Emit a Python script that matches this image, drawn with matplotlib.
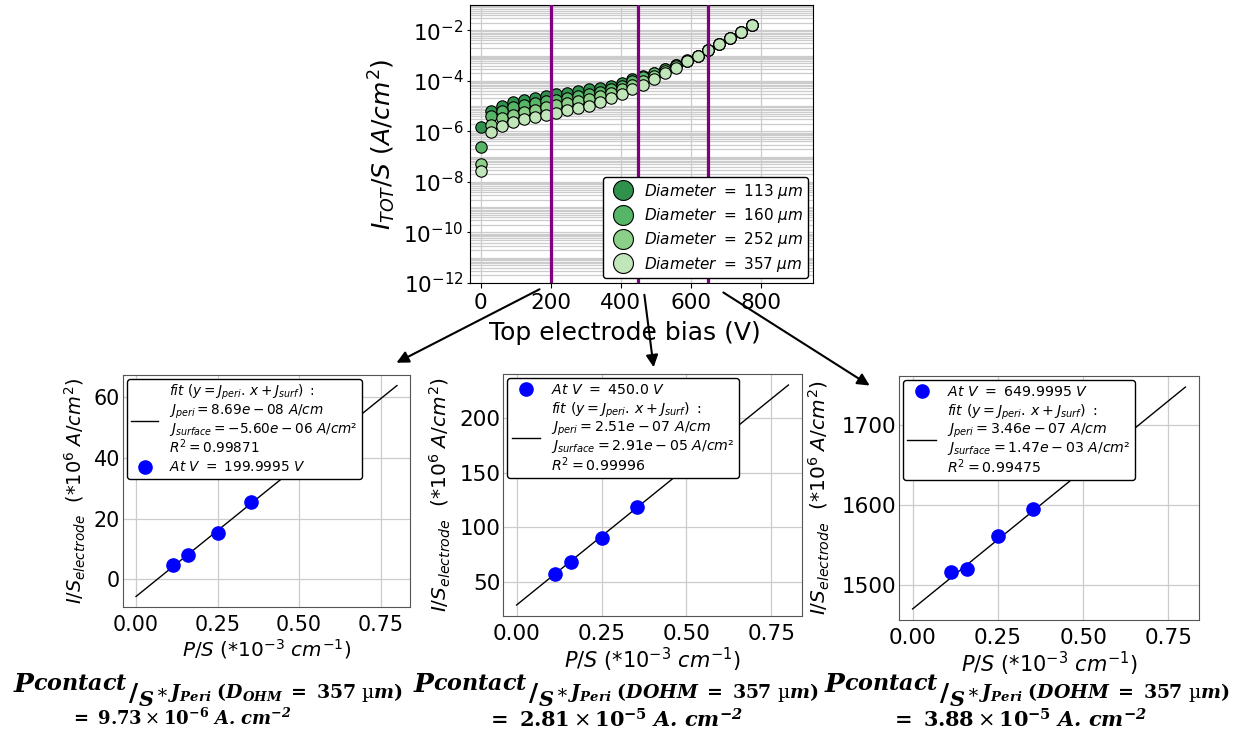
import numpy as np
import matplotlib
matplotlib.use("Agg")
import matplotlib.pyplot as plt
from matplotlib.patches import FancyArrowPatch
from matplotlib.ticker import LogLocator, NullFormatter

# ---------------- data ----------------
bias = [0, 31, 62, 93, 124, 155, 186, 217, 248, 279, 310, 341, 372, 403,
        434, 465, 496, 527, 558, 589, 620, 651, 682, 713, 744, 775]

diameters = ["113", "160", "252", "357"]

j_113 = [1.45e-6, 6.6e-6, 1.05e-5, 1.41e-5, 1.70e-5, 2.04e-5, 2.45e-5, 2.95e-5,
         3.31e-5, 3.89e-5, 4.57e-5, 5.25e-5, 6.46e-5, 8.3e-5, 1.20e-4, 1.55e-4,
         2.09e-4, 3.02e-4, 4.37e-4, 6.46e-4, 9.8e-4, 1.68e-3, 2.95e-3, 5.1e-3,
         8.9e-3, 1.62e-2]
j_160 = [2.45e-7, 3.98e-6, 6.6e-6, 9.3e-6, 1.12e-5, 1.35e-5, 1.62e-5, 1.82e-5,
         2.09e-5, 2.45e-5, 2.88e-5, 3.55e-5, 4.57e-5, 6.2e-5, 9.8e-5, 1.41e-4,
         1.95e-4, 2.82e-4, 4.07e-4, 6.0e-4, 9.6e-4, 1.66e-3, 2.95e-3, 5.1e-3,
         8.9e-3, 1.62e-2]
j_252 = [5.2e-8, 1.86e-6, 3.39e-6, 4.57e-6, 6.0e-6, 7.2e-6, 9.3e-6, 1.12e-5,
         1.35e-5, 1.55e-5, 1.91e-5, 2.45e-5, 3.16e-5, 4.57e-5, 6.8e-5, 1.0e-4,
         1.62e-4, 2.4e-4, 3.8e-4, 5.9e-4, 9.5e-4, 1.65e-3, 2.95e-3, 5.1e-3,
         8.9e-3, 1.62e-2]
j_357 = [2.6e-8, 9.3e-7, 1.70e-6, 2.4e-6, 3.16e-6, 3.7e-6, 4.57e-6, 5.4e-6,
         6.8e-6, 8.1e-6, 1.05e-5, 1.51e-5, 2.04e-5, 3.0e-5, 4.8e-5, 7.1e-5,
         1.20e-4, 1.95e-4, 3.3e-4, 5.9e-4, 9.5e-4, 1.66e-3, 2.95e-3, 5.1e-3,
         8.9e-3, 1.62e-2]
series = [j_113, j_160, j_252, j_357]
green_colors = ["#2f914b", "#56b567", "#8ccf88", "#c1e6ba"]

vline_bias = [200, 450, 650]

# lower panels: perimeter / surface (x) and current density (*1e-6 A/cm2)
p_over_s = [0.112, 0.1587, 0.25, 0.354]
j_at_200 = [4.7, 7.9, 15.2, 25.5]
j_at_450 = [57.3, 68.6, 90.2, 118.5]
j_at_650 = [1516.2, 1520.4, 1560.7, 1594.8]
panel_volts = ["199.9995", "450.0", "649.9995"]
fit_jperi = [86.9, 251.0, 346.0]       # slope in plot units
fit_jsurf = [-5.6, 29.1, 1470.0]       # intercept in plot units
fit_jperi_txt = ["8.69e-08", "2.51e-07", "3.46e-07"]
fit_jsurf_txt = ["-5.60e-06", "2.91e-05", "1.47e-03"]
fit_r2_txt = ["0.99871", "0.99996", "0.99475"]
fit_x = [0.0, 0.8]
panel_yticks = [[0, 20, 40, 60], [50, 100, 150, 200], [1500, 1600, 1700]]
result_vals = ["9.73", "2.81", "3.88"]
result_exps = ["-6", "-5", "-5"]
dohm_txt = [r"\mathbfit{D_{OHM}}", r"\mathbfit{DOHM}", r"\mathbfit{DOHM}"]

# ---------------- figure ----------------
W, H = 1250, 744
fig = plt.figure(figsize=(W / 100, H / 100), dpi=100)


def rect(l, t, r, b):
    return [l / W, 1 - b / H, (r - l) / W, (b - t) / H]


# top plot
ax = fig.add_axes(rect(470, 5, 813, 283))
for j, d, c in zip(series, diameters, green_colors):
    ax.plot(bias, j, "o", ls="none", ms=8.2, mfc=c, mec="black", mew=0.8,
            label=r"$Diameter\ =\ %s\ \mu m$" % d, zorder=3)
for v in vline_bias:
    ax.axvline(v, color="#800080", lw=2.3, zorder=4)
ax.set_yscale("log")
ax.set_ylim(1e-12, 1e-1)
ax.set_xlim(-30, 950)
ax.set_xticks([0, 200, 400, 600, 800])
ax.set_yticks([1e-12, 1e-10, 1e-8, 1e-6, 1e-4, 1e-2])
ax.yaxis.set_minor_locator(LogLocator(base=10, subs=np.arange(1, 10), numticks=200))
ax.yaxis.set_minor_formatter(NullFormatter())
ax.tick_params(axis="y", which="minor", length=0)
ax.tick_params(axis="y", which="major", length=2.5, pad=2)
ax.grid(True, which="major", color="#cccccc", lw=0.9, zorder=0)
ax.grid(True, which="minor", axis="y", color="#cccccc", lw=0.9, zorder=0)
ax.set_axisbelow(True)
ax.tick_params(labelsize=15.5)
ax.set_xlabel("Top electrode bias (V)", fontsize=18, labelpad=0)
ax.xaxis.set_label_coords(0.452, -0.135)
ax.set_ylabel(r"$I_{TOT}/S\ (A/cm^2)$", fontsize=18, labelpad=4)
leg = ax.legend(loc="lower right", fontsize=11, markerscale=1.75,
                handletextpad=0.4, borderpad=0.3, labelspacing=0.35,
                framealpha=1, edgecolor="black", borderaxespad=0.3)
leg.set_zorder(10)

# lower panels
panel_rects = [rect(123, 375, 410, 607), rect(503, 374, 802, 616),
               rect(899, 376, 1199, 620)]
panel_data = [j_at_200, j_at_450, j_at_650]
panel_font = [0.96, 1.0, 1.0]
ylabel_x = [-0.122, -0.167, -0.222]
for i in range(3):
    s = panel_font[i]
    a = fig.add_axes(panel_rects[i])
    fy = [fit_jperi[i] * x + fit_jsurf[i] for x in fit_x]
    fit_lab = (r"$fit\ (y = J_{peri}.\,x + J_{surf})\ :$" + "\n"
               + r"$J_{peri} = %s\ A/cm$" % fit_jperi_txt[i] + "\n"
               + r"$J_{surface} = %s\ A/cm²$" % fit_jsurf_txt[i] + "\n"
               + r"$R^2 = %s$" % fit_r2_txt[i])
    pt_lab = r"$At\ V\ =\ %s\ V$" % panel_volts[i]
    h_fit, = a.plot(fit_x, fy, color="black", lw=1.0, label=fit_lab, zorder=3)
    h_pt, = a.plot(p_over_s, panel_data[i], "o", ls="none", ms=9.5,
                   color="blue", label=pt_lab, zorder=4)
    handles = [h_fit, h_pt] if i == 0 else [h_pt, h_fit]
    lg = a.legend(handles=handles, loc="upper left", fontsize=10.2 * s,
                  framealpha=1, edgecolor="black", borderpad=0.3,
                  labelspacing=0.3, handletextpad=0.8, borderaxespad=0.3)
    for t in lg.get_texts():
        t.set_linespacing(1.0)
    a.set_xticks([0, 0.25, 0.5, 0.75])
    a.set_yticks(panel_yticks[i])
    a.grid(True, color="#cccccc", lw=0.9)
    a.set_axisbelow(True)
    a.tick_params(labelsize=15.5 * s)
    a.tick_params(axis="y", length=0, pad=2)
    a.tick_params(axis="x", length=0, pad=6)
    for sp in a.spines.values():
        sp.set_color("#555555")
    a.set_xlabel(r"$P/S$ (*10$^{-3}$ $cm^{-1}$)", fontsize=15 * s, labelpad=1)
    a.set_ylabel(r"$I/S_{electrode}$  (*10$^6$ $A/cm^2$)", fontsize=14.5 * s)
    a.yaxis.set_label_coords(ylabel_x[i], 0.5)

# arrows
arrows = [((542, 288), (394, 364)), ((644, 292), (654, 370)),
          ((721, 291), (872, 387))]
for (x0, y0), (x1, y1) in arrows:
    fig.add_artist(FancyArrowPatch((x0 / W, 1 - y0 / H), (x1 / W, 1 - y1 / H),
                                   transform=fig.transFigure,
                                   arrowstyle="-|>", mutation_scale=18,
                                   lw=1.5, color="black"))

# bottom formulas
R = fig.canvas.get_renderer()


def put(txt, x, yb, size, ha="left"):
    t = fig.text(x / W, 1 - yb / H, txt, fontsize=size, ha=ha, va="baseline",
                 math_fontfamily="dejavuserif")
    return t.get_window_extent(renderer=R).x1


line1_x = [13, 413, 824]
line2_cx = [181, 615, 1019]
line2_size = [13.0, 15.0, 15.0]
line2_base = [725, 728, 728]
for i in range(3):
    x = put(r"$\mathbfit{P}$", line1_x[i], 692, 19)
    x = put(r"$\mathbfit{contact}$", x - 3, 690, 16)
    x = put(r"$\mathbf{/}$", x, 701, 18)
    x = put(r"$\mathbfit{S}$", x - 1, 706, 15)
    rest = (r"$\ast\,\mathbfit{J_{Peri}}\ \mathbf{(}" + dohm_txt[i]
            + r"\ \mathbf{=}\ \mathbf{357}\ \mathrm{µ}\mathbfit{m}\mathbf{)}$")
    put(rest, x + 1, 698, 13.6)
    t2 = (r"$\mathbf{=}\ \mathbf{%s}\times\mathbf{10^{%s}}\ \mathbfit{A.\,cm^{-2}}$"
          % (result_vals[i], result_exps[i]))
    put(t2, line2_cx[i], line2_base[i], line2_size[i], ha="center")

fig.savefig("out.png", dpi=100)
